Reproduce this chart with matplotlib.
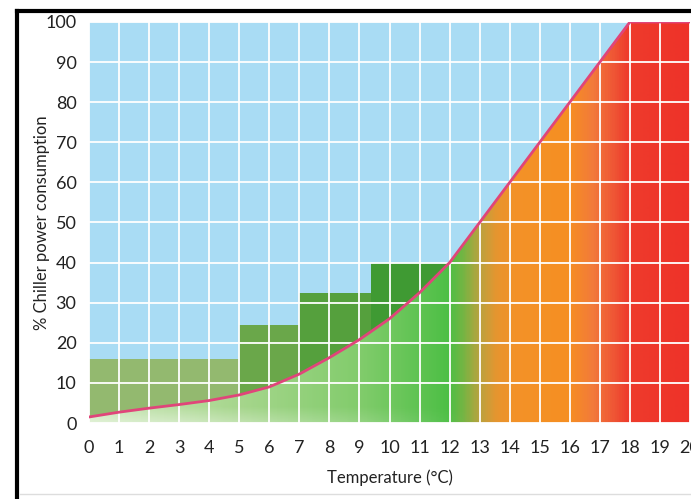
import numpy as np
import matplotlib.pyplot as plt
from matplotlib.colors import LinearSegmentedColormap
from matplotlib.patches import Polygon
from matplotlib.lines import Line2D

plt.rcParams['font.family'] = ['Lato', 'DejaVu Sans']

# chiller power curve (% consumption vs temperature)
temps = [0, 1, 2, 3, 4, 5, 6, 7, 8, 9, 10, 11, 12, 13, 14, 15, 16, 17, 18, 20]
power = [1.5, 2.7, 3.7, 4.6, 5.6, 7.0, 9.0, 12.2, 16.3, 20.8, 26.0, 32.5, 40, 50, 60, 70, 80, 90, 100, 100]

# stepped "actual" consumption blocks
step_edges = [0, 5, 7, 9.4, 12]
step_levels = [16, 24.5, 32.5, 40]
step_colors = ['#93b96f', '#6aa74a', '#55a03d', '#3f9a33']

x_ticks = list(range(0, 21))
y_ticks = list(range(0, 101, 10))

blue = '#a9dcf4'
line_color = '#e0457a'

fig = plt.figure(figsize=(6.91, 4.99), dpi=100)
ax = fig.add_axes([89 / 691, 76 / 499, 601 / 691, 401 / 499])
ax.set_facecolor(blue)
ax.set_xlim(0, 20)
ax.set_ylim(0, 100)

# stepped blocks
for i, lvl in enumerate(step_levels):
    ax.fill_between([step_edges[i], step_edges[i + 1]], 0, lvl,
                    color=step_colors[i], linewidth=0, zorder=1)

# gradient under the curve
stops = [(0, '#cde8bb'), (5, '#a6d68c'), (9, '#82cc6c'), (12, '#4dbf45'),
         (12.5, '#78b443'), (13, '#b9a33f'), (13.6, '#e7952f'), (14.2, '#f39228'),
         (16, '#f68f22'), (16.8, '#f27a3a'), (17.5, '#ef5635'), (18, '#ee3b2c'),
         (20, '#ee3229')]
cmap = LinearSegmentedColormap.from_list('heat', [(p / 20, c) for p, c in stops])
grad = np.linspace(0, 1, 600).reshape(1, -1)
img = ax.imshow(grad, extent=[0, 20, 0, 100], aspect='auto', cmap=cmap,
                origin='lower', zorder=2, interpolation='bilinear')
poly = Polygon(list(zip(temps, power)) + [(20, 0), (0, 0)], closed=True,
               transform=ax.transData, facecolor='none', edgecolor='none')
ax.add_patch(poly)
img.set_clip_path(poly)

# soft fade toward the bottom edge of the green part
fade = np.zeros((50, 100, 4))
fade[..., :3] = 1.0
vert = np.linspace(0.4, 0, 50)[:, None]
horiz = np.clip(np.linspace(1.3, 0, 100), 0, 1)[None, :]
fade[..., 3] = vert * horiz
fimg = ax.imshow(fade, extent=[0, 13, 0, 4], aspect='auto', origin='lower',
                 zorder=2.5, interpolation='bilinear')
fimg.set_clip_path(poly)

ax.plot(temps, power, color=line_color, linewidth=2, zorder=4)

ax.set_xticks(x_ticks)
ax.set_yticks(y_ticks)
ax.grid(True, color='white', linewidth=1.3, zorder=3)
ax.set_axisbelow(False)
for s in ax.spines.values():
    s.set_visible(False)
ax.tick_params(length=0, labelsize=13, colors='#222222')
ax.tick_params(axis='x', pad=12)
ax.tick_params(axis='y', pad=9)
ax.set_xlabel('Temperature (°C)', fontsize=12, color='#222222', labelpad=10)
ax.set_ylabel('% Chiller power consumption', fontsize=12, color='#222222', labelpad=-3)

# frame around the figure
fig.add_artist(Line2D([17 / 691, 1], [1 - 11 / 499, 1 - 11 / 499], color='black', linewidth=3))
fig.add_artist(Line2D([17 / 691, 17 / 691], [0, 1 - 11 / 499], color='black', linewidth=3))
fig.add_artist(Line2D([20 / 691, 1], [5 / 499, 5 / 499], color='#dddddd', linewidth=1))

fig.savefig('out.png', dpi=100)
